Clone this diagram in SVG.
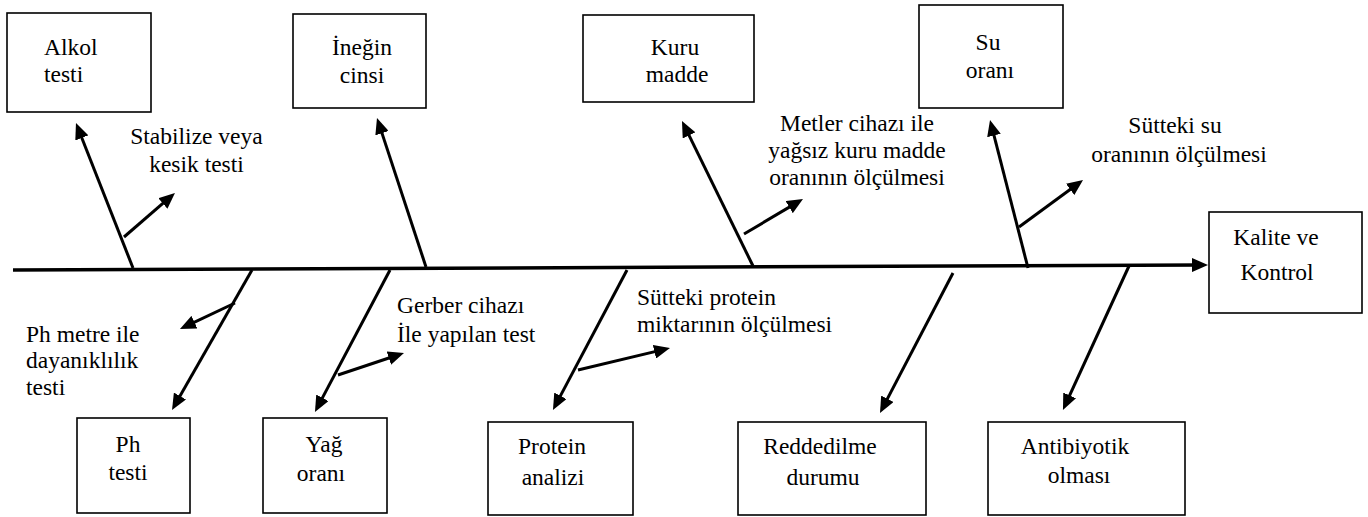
<svg xmlns="http://www.w3.org/2000/svg" width="1368" height="517" viewBox="0 0 1368 517">
<style>
.box{fill:#fff;stroke:#000;stroke-width:1.6}
.t{font-family:"Liberation Serif","Times New Roman",serif;font-size:23.5px;fill:#000}
.m{text-anchor:middle}
.ln{stroke:#000;stroke-width:3;fill:none;marker-end:url(#ah)}
.sp{stroke:#000;stroke-width:3.5;fill:none;marker-end:url(#ah)}
</style>
<defs>
<marker id="ah" viewBox="0 0 16 14" refX="8" refY="7" markerWidth="16" markerHeight="14" markerUnits="userSpaceOnUse" orient="auto">
<path d="M0,0 L16,7 L0,14 z" fill="#000"/>
</marker>
</defs>
<rect width="1368" height="517" fill="#fff"/>
<g id="connectors">
<line class="sp" x1="13" y1="270" x2="1200" y2="265"/>
<line class="ln" x1="133" y1="268" x2="78.9" y2="130.5"/>
<line class="ln" x1="426" y1="267" x2="379.5" y2="125.6"/>
<line class="ln" x1="753" y1="266" x2="685.5" y2="128.2"/>
<line class="ln" x1="1028" y1="268" x2="992" y2="127.7"/>
<line class="ln" x1="124" y1="237" x2="168.9" y2="198.2"/>
<line class="ln" x1="744" y1="234" x2="796.1" y2="203.1"/>
<line class="ln" x1="1019" y1="227" x2="1076.6" y2="184.7"/>
<line class="ln" x1="252" y1="270" x2="176" y2="403"/>
<line class="ln" x1="235" y1="303" x2="187.2" y2="325.6"/>
<line class="ln" x1="390" y1="270" x2="318.7" y2="404.9"/>
<line class="ln" x1="338" y1="375" x2="396.4" y2="355.5"/>
<line class="ln" x1="627" y1="270" x2="556.7" y2="402.9"/>
<line class="ln" x1="578" y1="370" x2="662.2" y2="349.9"/>
<line class="ln" x1="953" y1="273" x2="883.7" y2="405.9"/>
<line class="ln" x1="1129" y1="266" x2="1066.3" y2="402.7"/>
</g>
<g id="alkol">
<rect class="box" x="7" y="13" width="144" height="99"/>
<text class="t" x="44" y="55">Alkol</text>
<text class="t" x="44" y="82">testi</text>
</g>
<g id="inegin">
<rect class="box" x="293" y="14" width="133" height="94"/>
<text class="t m" x="362" y="55">İneğin</text>
<text class="t m" x="362" y="83">cinsi</text>
</g>
<g id="kuru">
<rect class="box" x="583" y="15" width="171" height="87"/>
<text class="t m" x="675" y="55">Kuru</text>
<text class="t m" x="677" y="82">madde</text>
</g>
<g id="su">
<rect class="box" x="919" y="5" width="144" height="103"/>
<text class="t m" x="988" y="50">Su</text>
<text class="t m" x="990" y="78">oranı</text>
</g>
<g id="kalite">
<rect class="box" x="1209" y="212" width="153" height="101"/>
<text class="t m" x="1276" y="245">Kalite ve</text>
<text class="t m" x="1277" y="280">Kontrol</text>
</g>
<g id="ph">
<rect class="box" x="77" y="418" width="113" height="95"/>
<text class="t m" x="128" y="452">Ph</text>
<text class="t m" x="128" y="480">testi</text>
</g>
<g id="yag">
<rect class="box" x="263" y="418" width="124" height="95"/>
<text class="t m" x="324" y="452">Yağ</text>
<text class="t m" x="321" y="481">oranı</text>
</g>
<g id="protein">
<rect class="box" x="488" y="422" width="145" height="93"/>
<text class="t m" x="552" y="454">Protein</text>
<text class="t m" x="553" y="485">analizi</text>
</g>
<g id="reddedilme">
<rect class="box" x="738" y="422" width="188" height="93"/>
<text class="t m" x="820" y="454">Reddedilme</text>
<text class="t m" x="823" y="485">durumu</text>
</g>
<g id="antibiyotik">
<rect class="box" x="988" y="422" width="197" height="93"/>
<text class="t m" x="1075" y="454">Antibiyotik</text>
<text class="t m" x="1079" y="483">olması</text>
</g>
<g id="labels">
<text class="t m" x="196.5" y="144">Stabilize veya</text>
<text class="t m" x="196.5" y="172">kesik testi</text>
<text class="t m" x="857" y="131">Metler cihazı ile</text>
<text class="t m" x="857" y="158">yağsız kuru madde</text>
<text class="t m" x="857" y="185">oranının ölçülmesi</text>
<text class="t m" x="1175" y="133">Sütteki su</text>
<text class="t m" x="1179" y="162">oranının ölçülmesi</text>
<text class="t" x="26" y="342">Ph metre ile</text>
<text class="t" x="26" y="368">dayanıklılık</text>
<text class="t" x="26" y="395">testi</text>
<text class="t" x="397" y="313">Gerber cihazı</text>
<text class="t" x="397" y="342">İle yapılan test</text>
<text class="t" x="637" y="305">Sütteki protein</text>
<text class="t" x="637" y="332">miktarının ölçülmesi</text>
</g>
</svg>
